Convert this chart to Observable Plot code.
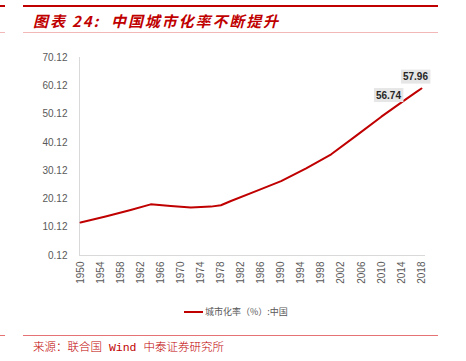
<!DOCTYPE html>
<html>
<head>
<meta charset="utf-8">
<script src="https://cdn.jsdelivr.net/npm/d3@7"></script>
<script src="https://cdn.jsdelivr.net/npm/@observablehq/plot@0.6"></script>
<style>
  body { margin: 0; background: #fff; }
  #wrap { position: relative; width: 466px; height: 361px; overflow: hidden; font-family: "Liberation Sans", Arial, sans-serif; }
  .hl { position: absolute; }
  #title { position: absolute; left: 33px; top: 11px; font-family: "Noto Sans CJK SC", sans-serif; font-style: italic; font-weight: bold; font-size: 15px; color: #c00000; letter-spacing: 1.9px; line-height: 20px; white-space: nowrap; }
  #source { position: absolute; left: 33px; top: 340px; font-family: "Liberation Mono", "Noto Sans CJK SC", monospace; font-size: 11.5px; color: #c00000; line-height: 16px; white-space: nowrap; font-weight: 300; }
  #legend { position: absolute; left: 184px; top: 305px; font-size: 9px; color: #595959; display: flex; align-items: center; white-space: nowrap; font-family: "Noto Sans CJK SC", sans-serif; }
  #legend .sw { width: 19px; height: 2px; background: #c00000; margin-right: 2px; }
  #chart { position: absolute; left: 0; top: 0; }
</style>
</head>
<body>
<div id="wrap">
  <div class="hl" style="left:23px;top:5px;width:415px;height:2px;background:#c00000"></div>
  <div class="hl" style="left:0;top:5px;width:5px;height:2px;background:#c00000"></div>
  <div class="hl" style="left:23px;top:32px;width:415px;height:1px;background:#f2b8b8"></div>
  <div class="hl" style="left:0;top:32px;width:5px;height:1px;background:#f2b8b8"></div>
  <div id="title">图表 24:&nbsp;&nbsp;中国城市化率不断提升</div>
  <div id="chart"></div>
  <div id="legend"><div class="sw"></div><span>城市化率（%）:中国</span></div>
  <div class="hl" style="left:23px;top:335px;width:415px;height:1px;background:#e57373"></div>
  <div class="hl" style="left:0;top:335px;width:5px;height:1px;background:#e57373"></div>
  <div id="source">来源：联合国 Wind 中泰证券研究所</div>
</div>
<script>
const years  = [1950, 1955, 1960, 1964, 1968, 1972, 1976, 1978, 1980, 1985, 1990, 1995, 2000, 2005, 2010, 2015, 2016, 2017, 2018];
const values = [11.8, 13.9, 16.2, 18.2, 17.6, 17.1, 17.4, 17.9, 19.4, 22.9, 26.4, 30.96, 35.9, 42.5, 49.2, 55.5, 56.74, 57.96, 59.15];
const xTicks = d3.range(1950, 2019, 4);
const yTicks = [0.12, 10.12, 20.12, 30.12, 40.12, 50.12, 60.12, 70.12];
const labelYears = [2016, 2017];
const labelOffsets = {2016: [-23, 0], 2017: [-1, -15]};

const data = years.map((y, i) => ({year: y, value: values[i]}));
const labels = data.filter(d => labelYears.includes(d.year));

const chart = Plot.plot({
  width: 466,
  height: 300,
  marginTop: 57,
  marginBottom: 45,
  marginLeft: 79,
  marginRight: 41,
  style: {fontFamily: "Liberation Sans, Arial, sans-serif", fontSize: "10px", color: "#595959", background: "transparent"},
  x: {domain: [1949.8, 2018.8], ticks: xTicks, tickFormat: d => String(d), tickRotate: -90, tickSize: 0, tickPadding: 6, label: null},
  y: {domain: [0.12, 70.12], ticks: yTicks, tickFormat: d => d.toFixed(2), tickSize: 0, tickPadding: 12, label: null},
  marks: [
    Plot.ruleY([0.12], {stroke: "#d9d9d9", strokeWidth: 1}),
    Plot.ruleX([1949.8], {stroke: "#d9d9d9", strokeWidth: 1}),
    Plot.line(data, {x: "year", y: "value", stroke: "#c00000", strokeWidth: 2}),
    ...labels.map(d => Plot.text([d], {x: "year", y: "value", text: d => d.value.toFixed(2), dx: labelOffsets[d.year][0], dy: labelOffsets[d.year][1], fill: "#262626", fontWeight: "bold", fontSize: 10, className: "dlabel"}))
  ]
});
document.getElementById("chart").appendChild(chart);

// grey boxes behind the data labels
chart.querySelectorAll("g.dlabel text").forEach(t => {
  const b = t.getBBox();
  const r = document.createElementNS("http://www.w3.org/2000/svg", "rect");
  r.setAttribute("x", b.x - 2);
  r.setAttribute("y", b.y - 1.5);
  r.setAttribute("width", b.width + 4);
  r.setAttribute("height", b.height + 3);
  r.setAttribute("fill", "#e6e6e6");
  const tr = t.getAttribute("transform");
  if (tr) r.setAttribute("transform", tr);
  t.parentNode.insertBefore(r, t);
});
</script>
</body>
</html>
